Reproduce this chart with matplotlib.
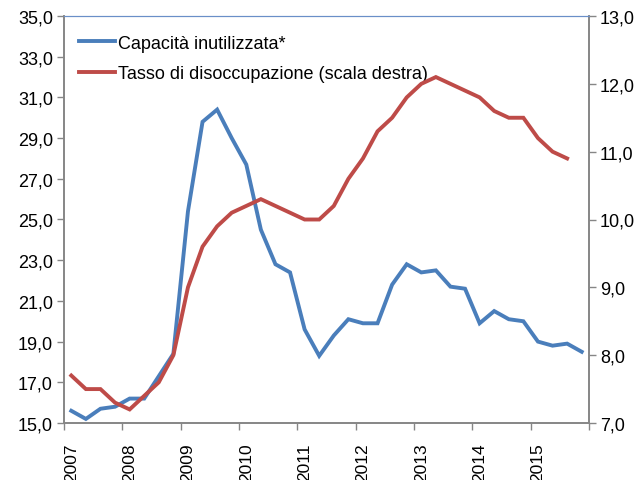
import numpy as np
import matplotlib.pyplot as plt
from matplotlib.ticker import FuncFormatter

plt.rcParams['font.family'] = ['Liberation Sans', 'DejaVu Sans']

years = ["2007", "2008", "2009", "2010", "2011", "2012", "2013", "2014", "2015"]

# quarterly values, 2007Q1 .. 2015Q4
capacita = [15.6, 15.2, 15.7, 15.8, 16.2, 16.2, 17.3, 18.4,
            25.4, 29.8, 30.4, 29.0, 27.7, 24.5, 22.8, 22.4,
            19.6, 18.3, 19.3, 20.1, 19.9, 19.9, 21.8, 22.8,
            22.4, 22.5, 21.7, 21.6, 19.9, 20.5, 20.1, 20.0,
            19.0, 18.8, 18.9, 18.5]

# unemployment rate, 2007Q1 .. 2015Q3 (right scale)
disoccupazione = [7.7, 7.5, 7.5, 7.3, 7.2, 7.4, 7.6, 8.0,
                  9.0, 9.6, 9.9, 10.1, 10.2, 10.3, 10.2, 10.1,
                  10.0, 10.0, 10.2, 10.6, 10.9, 11.3, 11.5, 11.8,
                  12.0, 12.1, 12.0, 11.9, 11.8, 11.6, 11.5, 11.5,
                  11.2, 11.0, 10.9]

blue = "#4A7EBB"
red = "#BE4B48"
grey = "#868686"
fs = 13


def comma(v, pos):
    return ("%.1f" % v).replace(".", ",")


def main():
    fig = plt.figure(figsize=(6.43, 4.81), dpi=100)
    ax = fig.add_axes([64 / 643, 1 - 424 / 481, 525 / 643, 407 / 481])
    ax2 = ax.twinx()

    x1 = np.arange(len(capacita))
    x2 = np.arange(len(disoccupazione))
    l1, = ax.plot(x1, capacita, color=blue, lw=2.8, solid_joinstyle="miter",
                  label="Capacità inutilizzata*")
    l2, = ax2.plot(x2, disoccupazione, color=red, lw=2.8, solid_joinstyle="miter",
                   label="Tasso di disoccupazione (scala destra)")

    ax.set_xlim(-0.5, 35.5)
    ax.set_ylim(15, 35)
    ax2.set_ylim(7, 13)
    ax.set_yticks(np.arange(15, 35.1, 2))
    ax2.set_yticks(np.arange(7, 13.1, 1))
    ax.yaxis.set_major_formatter(FuncFormatter(comma))
    ax2.yaxis.set_major_formatter(FuncFormatter(comma))

    ax.set_xticks(np.arange(-0.5, 36, 4))
    ax.set_xticklabels([])
    ax.set_xticks(np.arange(0, 36, 4), minor=True)
    ax.set_xticklabels(years, minor=True, rotation=90, va="top", ha="center")
    ax.tick_params(axis="x", which="major", length=5, color=grey, width=1)
    ax.tick_params(axis="x", which="minor", length=0, pad=14, labelsize=12.5)
    ax.tick_params(axis="y", length=5, color=grey, width=1, labelsize=fs, pad=3)
    ax2.tick_params(axis="y", length=5, color=grey, width=1, labelsize=fs, pad=3)

    for a in (ax, ax2):
        for s in ("left", "right", "bottom"):
            a.spines[s].set_color(grey)
            a.spines[s].set_linewidth(1.2)
        a.spines["top"].set_color("#6A8FC8")
        a.spines["top"].set_linewidth(0.8)

    ax.legend(handles=[l1, l2], loc="upper left", bbox_to_anchor=(0.005, 0.985),
              frameon=False, fontsize=fs, handlelength=2.0, handletextpad=0.15,
              labelspacing=0.75, borderaxespad=0.3)

    fig.savefig("out.png", dpi=100)


if __name__ == "__main__":
    main()
